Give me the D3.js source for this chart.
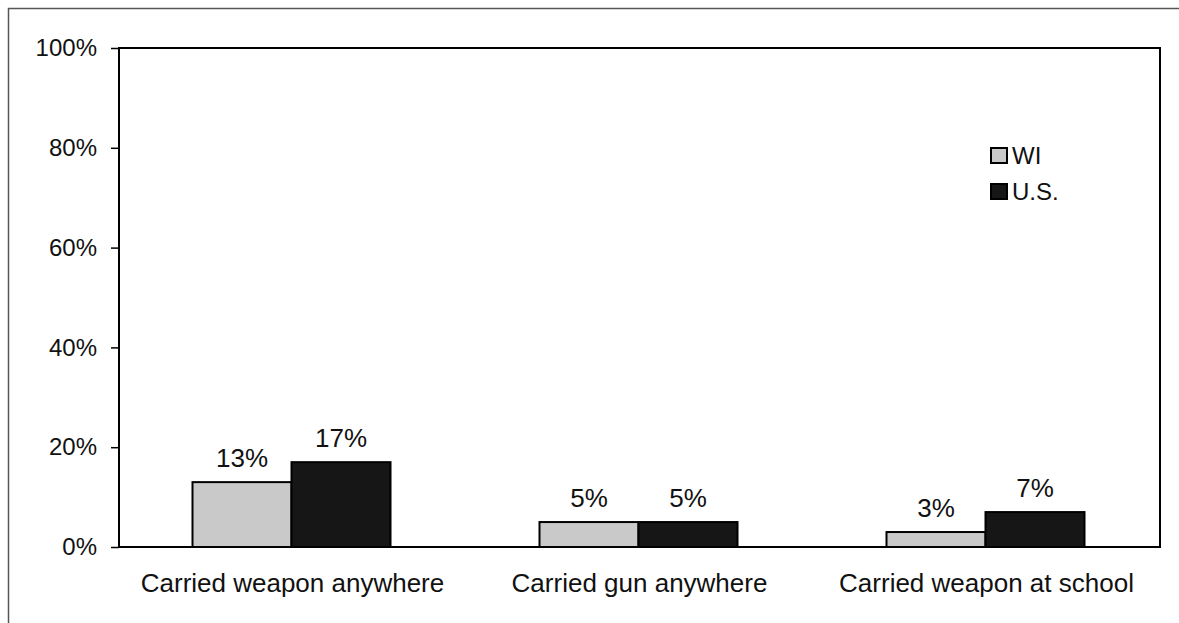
<!DOCTYPE html>
<html>
<head>
<meta charset="utf-8">
<script src="https://cdn.jsdelivr.net/npm/d3@7"></script>
<style>
	body { margin: 0; background: #fff; }
	text { font-family: "Liberation Sans", Arial, sans-serif; fill: #111; }
</style>
</head>
<body>
<div id="chart"></div>
<script>
var categories = ["Carried weapon anywhere", "Carried gun anywhere", "Carried weapon at school"];
var seriesNames = ["WI", "U.S."];
var wiValues = [13, 5, 3];
var usValues = [17, 5, 7];
var yTicks = [0, 20, 40, 60, 80, 100];

var width = 1179,
		height = 623;
var margin = {left: 119, top: 48, right: 1160, bottom: 547};

var svg = d3.select("#chart").append("svg").attr("width", width)
	.attr("height", height);

// outer frame (right side runs off the page)
svg.append("path").attr("d", "M1179,8.5H8.5V623")
	.attr("fill", "none").attr("stroke", "#555").attr("stroke-width", 1.5);

var x = d3.scaleBand().domain(categories).range([margin.left, margin.right]);
var x1 = d3.scaleBand().domain(seriesNames).range([0, 198]);
var y = d3.scaleLinear().domain([0, 100]).range([margin.bottom, margin.top]);
var fill = d3.scaleOrdinal().domain(seriesNames).range(["#c9c9c9", "#161616"]);

var rows = categories.map(function(c, i) {
	return [{cat: c, s: "WI", v: wiValues[i]}, {cat: c, s: "U.S.", v: usValues[i]}];
});

// plot box
svg.append("rect").attr("x", margin.left).attr("y", margin.top)
	.attr("width", margin.right - margin.left).attr("height", margin.bottom - margin.top)
	.attr("fill", "none").attr("stroke", "#000").attr("stroke-width", 2);

var yAxis = svg.append("g").attr("transform", "translate(" + margin.left + ",0)")
	.call(d3.axisLeft(y).tickValues(yTicks).tickSize(8).tickPadding(14)
		.tickFormat(function(d) { return d + "%"; }));
yAxis.select(".domain").remove();
yAxis.selectAll("line").attr("stroke", "#000").attr("stroke-width", 1.5);
yAxis.selectAll("text").style("font-size", "24px")
	.style("font-family", "Liberation Sans, Arial, sans-serif").attr("fill", "#111");

var g = svg.append("g").selectAll("g").data(rows).enter().append("g")
	.attr("transform", function(d) {
		return "translate(" + (x(d[0].cat) + x.bandwidth() / 2 - 100) + ",0)"; });

g.selectAll("rect").data(function(d) { return d; }).enter().append("rect")
	.attr("x", function(d) { return x1(d.s); })
	.attr("y", function(d) { return y(d.v); })
	.attr("width", x1.bandwidth())
	.attr("height", function(d) { return y(0) - y(d.v); })
	.attr("fill", function(d) { return fill(d.s); })
	.attr("stroke", "#000").attr("stroke-width", 2);

g.selectAll("text.val").data(function(d) { return d; }).enter().append("text")
	.attr("class", "val")
	.attr("x", function(d) { return x1(d.s) + x1.bandwidth() / 2; })
	.attr("y", function(d) { return y(d.v) - 15; })
	.attr("text-anchor", "middle").style("font-size", "26px")
	.text(function(d) { return d.v + "%"; });

// baseline
svg.append("line").attr("x1", margin.left).attr("x2", margin.right)
	.attr("y1", y(0)).attr("y2", y(0)).attr("stroke", "#000").attr("stroke-width", 2);

svg.append("g").selectAll("text").data(categories).enter().append("text")
	.attr("x", function(d) { return x(d) + x.bandwidth() / 2; })
	.attr("y", 592).attr("text-anchor", "middle").style("font-size", "26px")
	.text(function(d) { return d; });

// legend
var leg = svg.append("g").selectAll("g").data(seriesNames).enter().append("g")
	.attr("transform", function(d, i) { return "translate(991," + (148 + i * 36) + ")"; });
leg.append("rect").attr("width", 16).attr("height", 15)
	.attr("fill", function(d) { return fill(d); })
	.attr("stroke", "#000").attr("stroke-width", 2);
leg.append("text").attr("x", 21).attr("y", 16).style("font-size", "24px")
	.text(function(d) { return d; });
</script>
</body>
</html>
